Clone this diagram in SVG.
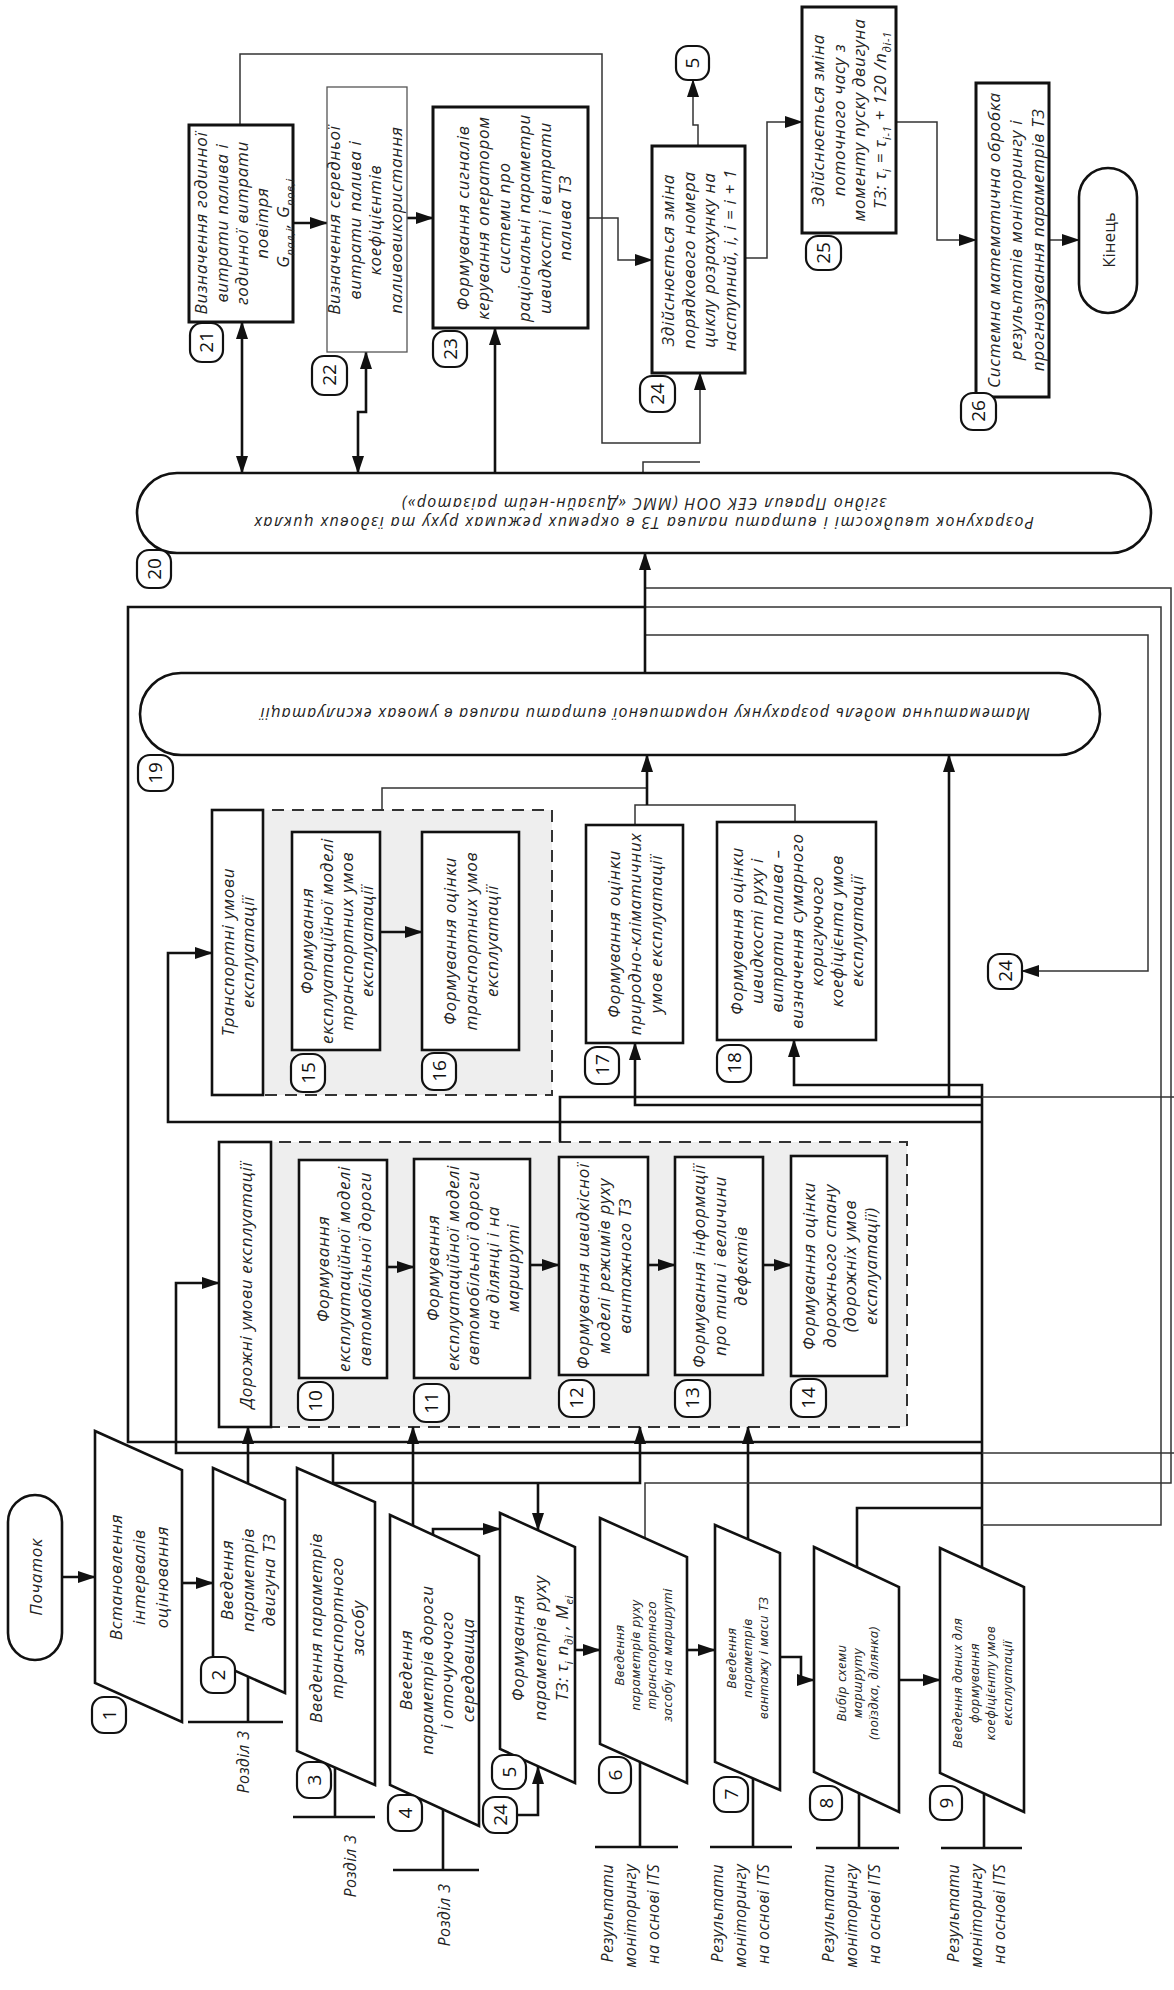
<svg xmlns="http://www.w3.org/2000/svg" width="1174" height="1990" viewBox="0 0 1174 1990">
<style>
.bg{fill:#fff}
.box{fill:#fff;stroke:#111;stroke-width:2.6}
.thin{fill:#fff;stroke:#555;stroke-width:1.3}
.grp{fill:#eeeeee;stroke:#333;stroke-width:2;stroke-dasharray:12 8}
.lbl{fill:#fff;stroke:#111;stroke-width:2.2}
.c{fill:none;stroke:#111;stroke-width:2.6}
.cn{fill:none;stroke:#333;stroke-width:1.5}
.t{font-family:"Open Sans","Noto Sans",sans-serif;font-style:italic;font-size:17px;letter-spacing:0.7px;fill:#222;text-anchor:middle}
.ts{font-family:"Open Sans","Noto Sans",sans-serif;font-style:italic;font-size:13px;letter-spacing:0.5px;fill:#222;text-anchor:middle}
.r{font-family:"Open Sans","Noto Sans",sans-serif;font-size:17px;fill:#222;text-anchor:middle}
.lb{font-family:"Open Sans","Noto Sans",sans-serif;font-size:19px;fill:#111;text-anchor:middle}
.w{font-size:16px;letter-spacing:0.4px}
text,tspan{dominant-baseline:central}
</style>
<defs>
<marker id="a" markerUnits="userSpaceOnUse" markerWidth="18" markerHeight="12" refX="17" refY="6" orient="auto-start-reverse">
<path d="M0,0 L18,6 L0,12 z" fill="#111"/>
</marker>
</defs>
<rect class="bg" x="0" y="0" width="1174" height="1990"/>

<g id="g-road">
<rect class="grp" x="219" y="1142" width="688" height="285"/>
<rect class="box" x="219" y="1142" width="52" height="285"/>
<text class="t" transform="translate(245,1285) rotate(-90)"><tspan x="0" y="0">Дорожні умови експлуатації</tspan></text>
</g>
<g id="g-transport">
<rect class="grp" x="212" y="810" width="340" height="285"/>
<rect class="box" x="212" y="810" width="51" height="285"/>
<text class="t" transform="translate(237,952) rotate(-90)"><tspan x="0" y="-10">Транспортні умови</tspan><tspan x="0" y="10">експлуатації</tspan></text>
</g>

<g id="connectors">
<path class="c" d="M62,1577 H95" marker-end="url(#a)"/>
<path class="c" d="M182,1583 H213" marker-end="url(#a)"/>
<path class="c" d="M575,1650 H600" marker-end="url(#a)"/>
<path class="c" d="M687,1650 H715" marker-end="url(#a)"/>
<path class="c" d="M780,1657 H801 V1680 H814" marker-end="url(#a)"/>
<path class="c" d="M899,1680 H940" marker-end="url(#a)"/>
<path class="c" d="M387,1267 H414" marker-end="url(#a)"/>
<path class="c" d="M530,1265 H559" marker-end="url(#a)"/>
<path class="c" d="M648,1265 H675" marker-end="url(#a)"/>
<path class="c" d="M763,1265 H791" marker-end="url(#a)"/>
<path class="c" d="M380,932 H422" marker-end="url(#a)"/>
<path class="c" d="M248,1484 V1427" marker-end="url(#a)"/>
<path class="c" d="M333,1484 V1453"/>
<path class="c" d="M333,1483 H640 V1427" marker-end="url(#a)"/>
<path class="c" d="M538,1483 V1530" marker-end="url(#a)"/>
<path class="c" d="M413,1526 V1427" marker-end="url(#a)"/>
<path class="c" d="M433,1535 V1529 H500" marker-end="url(#a)"/>
<path class="c" d="M748,1539 V1427" marker-end="url(#a)"/>
<path class="c" d="M518,1815 H538 V1767" marker-end="url(#a)"/>
<path class="cn" d="M645,1538 V1483 H1171 V588 H645"/>
<path class="c" d="M857,1567 V1508 H982"/>
<path class="c" d="M982,1567 V1085 H794 V1040" marker-end="url(#a)"/>
<path class="cn" d="M982,1525 H1161 V607 H645"/>
<path class="c" d="M645,607 H128 V1442 H982"/>
<path class="c" d="M982,1453 H176 V1283 H219" marker-end="url(#a)"/>
<path class="cn" d="M982,1453 H1174"/>
<path class="c" d="M560,1142 V1097 H982"/>
<path class="cn" d="M982,1097 H1174"/>
<path class="c" d="M949,1097 V755" marker-end="url(#a)"/>
<path class="c" d="M982,1105 H635 V1043" marker-end="url(#a)"/>
<path class="c" d="M982,1122 H168 V953 H212" marker-end="url(#a)"/>
<path class="cn" d="M645,635 H1148 V971 H1022" marker-end="url(#a)"/>
<path class="cn" d="M382,810 V788 H647"/>
<path class="cn" d="M635,825 V805 H795 V822"/>
<path class="c" d="M647,805 V755" marker-end="url(#a)"/>
<path class="c" d="M645,673 V553" marker-end="url(#a)"/>
<path class="c" d="M242,473 V322" marker-start="url(#a)" marker-end="url(#a)"/>
<path class="c" d="M358,473 V412 H366 V352" marker-start="url(#a)" marker-end="url(#a)"/>
<path class="c" d="M293,223 H327" marker-end="url(#a)"/>
<path class="c" d="M407,218 H433" marker-end="url(#a)"/>
<path class="c" d="M495,473 V328" marker-end="url(#a)"/>
<path class="cn" d="M588,218 H618 V260 H652" marker-end="url(#a)"/>
<path class="cn" d="M240,125 V54 H602 V443 H700 V373" marker-end="url(#a)"/>
<path class="cn" d="M643,473 V462 H700"/>
<path class="cn" d="M698,146 V125 H693 V80" marker-end="url(#a)"/>
<path class="cn" d="M745,258 H767 V122 H802" marker-end="url(#a)"/>
<path class="cn" d="M896,122 H937 V240 H976" marker-end="url(#a)"/>
<path class="cn" d="M1049,240 H1079" marker-end="url(#a)"/>
<path class="c" d="M248,1677 V1722 M188,1722 H283"/>
<path class="c" d="M335,1768 V1817 M293,1817 H375"/>
<path class="c" d="M443,1809 V1870 M393,1870 H479"/>
<path class="c" d="M640,1762 V1847 M595,1847 H678"/>
<path class="c" d="M753,1778 V1847 M710,1847 H792"/>
<path class="c" d="M859,1793 V1848 M816,1848 H899"/>
<path class="c" d="M984,1793 V1848 M941,1848 H1022"/>
</g>

<g id="notes">
<text class="t w" transform="translate(243,1762) rotate(-90)"><tspan x="0" y="0">Розділ 3</tspan></text>
<text class="t w" transform="translate(350,1866) rotate(-90)"><tspan x="0" y="0">Розділ 3</tspan></text>
<text class="t w" transform="translate(444,1915) rotate(-90)"><tspan x="0" y="0">Розділ 3</tspan></text>
<text class="t w" style="text-anchor:end" transform="translate(630,1864) rotate(-90)"><tspan x="0" y="-23">Результати</tspan><tspan x="0" y="0">моніторингу</tspan><tspan x="0" y="23">на основі ITS</tspan></text>
<text class="t w" style="text-anchor:end" transform="translate(740,1864) rotate(-90)"><tspan x="0" y="-23">Результати</tspan><tspan x="0" y="0">моніторингу</tspan><tspan x="0" y="23">на основі ITS</tspan></text>
<text class="t w" style="text-anchor:end" transform="translate(851,1864) rotate(-90)"><tspan x="0" y="-23">Результати</tspan><tspan x="0" y="0">моніторингу</tspan><tspan x="0" y="23">на основі ITS</tspan></text>
<text class="t w" style="text-anchor:end" transform="translate(976,1864) rotate(-90)"><tspan x="0" y="-23">Результати</tspan><tspan x="0" y="0">моніторингу</tspan><tspan x="0" y="23">на основі ITS</tspan></text>
</g>

<g id="n-start"><rect class="box" x="8" y="1495" width="54" height="165" rx="27"/>
<text class="t" transform="translate(35,1577) rotate(-90)"><tspan x="0" y="0">Початок</tspan></text></g>

<g id="n1"><polygon class="box" points="95,1431 182,1470 182,1722 95,1683"/>
<text class="t" transform="translate(138,1577) rotate(-90)"><tspan x="0" y="-23">Встановлення</tspan><tspan x="0" y="0">інтервалів</tspan><tspan x="0" y="23">оцінювання</tspan></text>
<rect class="lbl" x="92" y="1697" width="34" height="36" rx="12"/><text class="lb" transform="translate(109,1715) rotate(-90)">1</text></g>

<g id="n2"><polygon class="box" points="213,1468 285,1500 285,1693 213,1661"/>
<text class="t" transform="translate(247,1580) rotate(-90)"><tspan x="0" y="-21">Введення</tspan><tspan x="0" y="0">параметрів</tspan><tspan x="0" y="21">двигуна ТЗ</tspan></text>
<rect class="lbl" x="201" y="1657" width="34" height="36" rx="12"/><text class="lb" transform="translate(218,1675) rotate(-90)">2</text></g>

<g id="n3"><polygon class="box" points="297,1468 375,1502 375,1785 297,1751"/>
<text class="t" transform="translate(336,1628) rotate(-90)"><tspan x="0" y="-21">Введення параметрів</tspan><tspan x="0" y="0">транспортного</tspan><tspan x="0" y="21">засобу</tspan></text>
<rect class="lbl" x="297" y="1762" width="34" height="36" rx="12"/><text class="lb" transform="translate(314,1780) rotate(-90)">3</text></g>

<g id="n4"><polygon class="box" points="390,1515 479,1556 479,1826 390,1785"/>
<text class="t" transform="translate(436,1670) rotate(-90)"><tspan x="0" y="-31">Введення</tspan><tspan x="0" y="-10">параметрів дороги</tspan><tspan x="0" y="10">і оточуючого</tspan><tspan x="0" y="31">середовища</tspan></text>
<rect class="lbl" x="388" y="1795" width="34" height="36" rx="12"/><text class="lb" transform="translate(405,1813) rotate(-90)">4</text></g>

<g id="n5"><polygon class="box" points="500,1513 575,1547 575,1783 500,1749"/>
<text class="t" transform="translate(539,1648) rotate(-90)"><tspan x="0" y="-22">Формування</tspan><tspan x="0" y="0">параметрів руху</tspan><tspan x="0" y="22">ТЗ: τ<tspan style="font-size:11px" baseline-shift="sub">i</tspan> n<tspan style="font-size:11px" baseline-shift="sub">дi</tspan> , M<tspan style="font-size:11px" baseline-shift="sub">еi</tspan></tspan></text>
<rect class="lbl" x="492" y="1755" width="34" height="34" rx="12"/><text class="lb" transform="translate(509,1772) rotate(-90)">5</text>
<rect class="lbl" x="483" y="1797" width="34" height="36" rx="12"/><text class="lb" transform="translate(500,1815) rotate(-90)">24</text></g>

<g id="n6"><polygon class="box" points="600,1518 687,1557 687,1783 600,1744"/>
<text class="ts" transform="translate(643,1655) rotate(-90)"><tspan x="0" y="-24">Введення</tspan><tspan x="0" y="-8">параметрів руху</tspan><tspan x="0" y="8">транспортного</tspan><tspan x="0" y="24">засобу на маршруті</tspan></text>
<rect class="lbl" x="599" y="1757" width="32" height="36" rx="12"/><text class="lb" transform="translate(615,1775) rotate(-90)">6</text></g>

<g id="n7"><polygon class="box" points="715,1525 780,1553 780,1790 715,1762"/>
<text class="ts" transform="translate(747,1658) rotate(-90)"><tspan x="0" y="-16">Введення</tspan><tspan x="0" y="0">параметрів</tspan><tspan x="0" y="16">вантажу і маси ТЗ</tspan></text>
<rect class="lbl" x="714" y="1777" width="34" height="35" rx="12"/><text class="lb" transform="translate(731,1794) rotate(-90)">7</text></g>

<g id="n8"><polygon class="box" points="814,1547 899,1587 899,1812 814,1772"/>
<text class="ts" transform="translate(857,1683) rotate(-90)"><tspan x="0" y="-16">Вибір схеми</tspan><tspan x="0" y="0">маршруту</tspan><tspan x="0" y="16">(поїздка, ділянка)</tspan></text>
<rect class="lbl" x="810" y="1786" width="32" height="34" rx="12"/><text class="lb" transform="translate(826,1803) rotate(-90)">8</text></g>

<g id="n9"><polygon class="box" points="940,1548 1024,1587 1024,1812 940,1773"/>
<text class="ts" transform="translate(982,1683) rotate(-90)"><tspan x="0" y="-25">Введення даних для</tspan><tspan x="0" y="-8">формування</tspan><tspan x="0" y="8">коефіцієнту умов</tspan><tspan x="0" y="25">експлуатації</tspan></text>
<rect class="lbl" x="930" y="1786" width="32" height="34" rx="12"/><text class="lb" transform="translate(946,1803) rotate(-90)">9</text></g>

<g id="n10"><rect class="box" x="299" y="1160" width="88" height="218"/>
<text class="t" transform="translate(343,1269) rotate(-90)"><tspan x="0" y="-21">Формування</tspan><tspan x="0" y="0">експлуатаційної моделі</tspan><tspan x="0" y="21">автомобільної дороги</tspan></text>
<rect class="lbl" x="298" y="1382" width="35" height="38" rx="12"/><text class="lb" transform="translate(315,1401) rotate(-90)">10</text></g>

<g id="n11"><rect class="box" x="414" y="1159" width="116" height="219"/>
<text class="t" transform="translate(472,1268) rotate(-90)"><tspan x="0" y="-40">Формування</tspan><tspan x="0" y="-20">експлуатаційної моделі</tspan><tspan x="0" y="0">автомобільної дороги</tspan><tspan x="0" y="20">на ділянці і на</tspan><tspan x="0" y="40">маршруті</tspan></text>
<rect class="lbl" x="414" y="1384" width="35" height="38" rx="12"/><text class="lb" transform="translate(431,1403) rotate(-90)">11</text></g>

<g id="n12"><rect class="box" x="559" y="1157" width="89" height="218"/>
<text class="t" transform="translate(603,1266) rotate(-90)"><tspan x="0" y="-21">Формування швидкісної</tspan><tspan x="0" y="0">моделі режимів руху</tspan><tspan x="0" y="21">вантажного ТЗ</tspan></text>
<rect class="lbl" x="559" y="1380" width="35" height="37" rx="12"/><text class="lb" transform="translate(576,1398) rotate(-90)">12</text></g>

<g id="n13"><rect class="box" x="675" y="1157" width="88" height="218"/>
<text class="t" transform="translate(719,1266) rotate(-90)"><tspan x="0" y="-21">Формування інформації</tspan><tspan x="0" y="0">про типи і величини</tspan><tspan x="0" y="21">дефектів</tspan></text>
<rect class="lbl" x="675" y="1380" width="35" height="37" rx="12"/><text class="lb" transform="translate(692,1398) rotate(-90)">13</text></g>

<g id="n14"><rect class="box" x="791" y="1156" width="96" height="220"/>
<text class="t" transform="translate(839,1266) rotate(-90)"><tspan x="0" y="-31">Формування оцінки</tspan><tspan x="0" y="-10">дорожнього стану</tspan><tspan x="0" y="10">(дорожніх умов</tspan><tspan x="0" y="31">експлуатації)</tspan></text>
<rect class="lbl" x="791" y="1379" width="35" height="38" rx="12"/><text class="lb" transform="translate(808,1398) rotate(-90)">14</text></g>

<g id="n15"><rect class="box" x="292" y="832" width="88" height="218"/>
<text class="t" transform="translate(336,941) rotate(-90)"><tspan x="0" y="-30">Формування</tspan><tspan x="0" y="-10">експлуатаційної моделі</tspan><tspan x="0" y="10">транспортних умов</tspan><tspan x="0" y="30">експлуатації</tspan></text>
<rect class="lbl" x="291" y="1054" width="34" height="38" rx="12"/><text class="lb" transform="translate(308,1073) rotate(-90)">15</text></g>

<g id="n16"><rect class="box" x="422" y="832" width="97" height="218"/>
<text class="t" transform="translate(470,941) rotate(-90)"><tspan x="0" y="-21">Формування оцінки</tspan><tspan x="0" y="0">транспортних умов</tspan><tspan x="0" y="21">експлуатації</tspan></text>
<rect class="lbl" x="422" y="1053" width="34" height="37" rx="12"/><text class="lb" transform="translate(439,1071) rotate(-90)">16</text></g>

<g id="n17"><rect class="box" x="586" y="825" width="97" height="218"/>
<text class="t" transform="translate(634,934) rotate(-90)"><tspan x="0" y="-21">Формування оцінки</tspan><tspan x="0" y="0">природно-кліматичних</tspan><tspan x="0" y="21">умов експлуатації</tspan></text>
<rect class="lbl" x="585" y="1047" width="34" height="37" rx="12"/><text class="lb" transform="translate(602,1065) rotate(-90)">17</text></g>

<g id="n18"><rect class="box" x="717" y="822" width="159" height="218"/>
<text class="t" transform="translate(796,931) rotate(-90)"><tspan x="0" y="-60">Формування оцінки</tspan><tspan x="0" y="-40">швидкості руху і</tspan><tspan x="0" y="-20">витрати палива –</tspan><tspan x="0" y="0">визначення сумарного</tspan><tspan x="0" y="20">коригуючого</tspan><tspan x="0" y="40">коефіцієнта умов</tspan><tspan x="0" y="60">експлуатації</tspan></text>
<rect class="lbl" x="717" y="1045" width="34" height="37" rx="12"/><text class="lb" transform="translate(734,1063) rotate(-90)">18</text></g>

<g id="n19"><rect class="box" x="140" y="673" width="960" height="82" rx="41"/>
<text class="t w" transform="translate(645,714) rotate(180)" textLength="770" lengthAdjust="spacing" x="0" y="0">Математична модель розрахунку нормативної витрати палива в умовах експлуатації</text>
<rect class="lbl" x="138" y="755" width="35" height="36" rx="12"/><text class="lb" transform="translate(155,773) rotate(-90)">19</text></g>

<g id="n20"><rect class="box" x="137" y="473" width="1014" height="80" rx="40"/>
<text class="t w" transform="translate(644,523) rotate(180)" textLength="780" lengthAdjust="spacing" x="0" y="0">Розрахунок швидкості і витрати палива ТЗ в окремих режимах руху та їздових циклах</text>
<text class="t w" transform="translate(644,504) rotate(180)" textLength="485" lengthAdjust="spacing" x="0" y="0">згідно Правил ЄЕК ООН (ММС «Дизайн-нейт раізатор»)</text>
<rect class="lbl" x="137" y="550" width="34" height="38" rx="12"/><text class="lb" transform="translate(154,569) rotate(-90)">20</text></g>

<g id="n21"><rect class="box" x="189" y="125" width="104" height="197" style="stroke-width:3"/>
<text class="t" transform="translate(241,223) rotate(-90)"><tspan x="0" y="-41">Визначення годинної</tspan><tspan x="0" y="-20">витрати палива і</tspan><tspan x="0" y="0">годинної витрати</tspan><tspan x="0" y="20">повітря</tspan><tspan x="0" y="41">G<tspan style="font-size:11px" baseline-shift="sub">пал,і</tspan>, G<tspan style="font-size:11px" baseline-shift="sub">пов,і</tspan></tspan></text>
<rect class="lbl" x="190" y="323" width="33" height="39" rx="12"/><text class="lb" transform="translate(206,342) rotate(-90)">21</text></g>

<g id="n22"><rect class="thin" x="327" y="87" width="80" height="265"/>
<text class="t" transform="translate(364,220) rotate(-90)"><tspan x="0" y="-31">Визначення середньої</tspan><tspan x="0" y="-10">витрати палива і</tspan><tspan x="0" y="10">коефіцієнтів</tspan><tspan x="0" y="31">паливовикористання</tspan></text>
<rect class="lbl" x="312" y="356" width="35" height="39" rx="12"/><text class="lb" transform="translate(329,375) rotate(-90)">22</text></g>

<g id="n23"><rect class="box" x="433" y="107" width="155" height="221" style="stroke-width:3"/>
<text class="t" transform="translate(513,218) rotate(-90)"><tspan x="0" y="-51">Формування сигналів</tspan><tspan x="0" y="-31">керування оператором</tspan><tspan x="0" y="-10">системи про</tspan><tspan x="0" y="10">раціональні параметри</tspan><tspan x="0" y="31">швидкості і витрати</tspan><tspan x="0" y="51">палива ТЗ</tspan></text>
<rect class="lbl" x="433" y="331" width="34" height="36" rx="12"/><text class="lb" transform="translate(450,349) rotate(-90)">23</text></g>

<g id="n24"><rect class="box" x="652" y="146" width="93" height="227" style="stroke-width:3"/>
<text class="t" transform="translate(698,260) rotate(-90)"><tspan x="0" y="-31">Здійснюється зміна</tspan><tspan x="0" y="-10">порядкового номера</tspan><tspan x="0" y="10">циклу розрахунку на</tspan><tspan x="0" y="31">наступний, i, i = i + 1</tspan></text>
<rect class="lbl" x="640" y="376" width="35" height="36" rx="12"/><text class="lb" transform="translate(657,394) rotate(-90)">24</text>
<rect class="lbl" x="676" y="46" width="33" height="34" rx="12"/><text class="lb" transform="translate(692,63) rotate(-90)">5</text></g>

<g id="n25"><rect class="box" x="802" y="7" width="94" height="226" style="stroke-width:3"/>
<text class="t" transform="translate(848,120) rotate(-90)"><tspan x="0" y="-31">Здійснюється зміна</tspan><tspan x="0" y="-10">поточного часу з</tspan><tspan x="0" y="10">моменту пуску двигуна</tspan><tspan x="0" y="31">ТЗ: τ<tspan style="font-size:11px" baseline-shift="sub">i</tspan> = τ<tspan style="font-size:11px" baseline-shift="sub">i-1</tspan> + 120 /n<tspan style="font-size:11px" baseline-shift="sub">дi-1</tspan></tspan></text>
<rect class="lbl" x="806" y="236" width="35" height="34" rx="12"/><text class="lb" transform="translate(823,253) rotate(-90)">25</text></g>

<g id="n26"><rect class="box" x="976" y="83" width="73" height="314" style="stroke-width:3"/>
<text class="t" transform="translate(1015,240) rotate(-90)"><tspan x="0" y="-22">Системна математична обробка</tspan><tspan x="0" y="0">результатів моніторингу і</tspan><tspan x="0" y="22">прогнозування параметрів ТЗ</tspan></text>
<rect class="lbl" x="961" y="393" width="35" height="37" rx="12"/><text class="lb" transform="translate(978,411) rotate(-90)">26</text></g>

<g id="n-end"><rect class="box" x="1079" y="168" width="58" height="145" rx="29"/>
<text class="r" transform="translate(1108,240) rotate(-90)">Кінець</text></g>

<g id="c24"><rect class="lbl" x="988" y="954" width="34" height="35" rx="12"/><text class="lb" transform="translate(1005,971) rotate(-90)">24</text></g>
</svg>
